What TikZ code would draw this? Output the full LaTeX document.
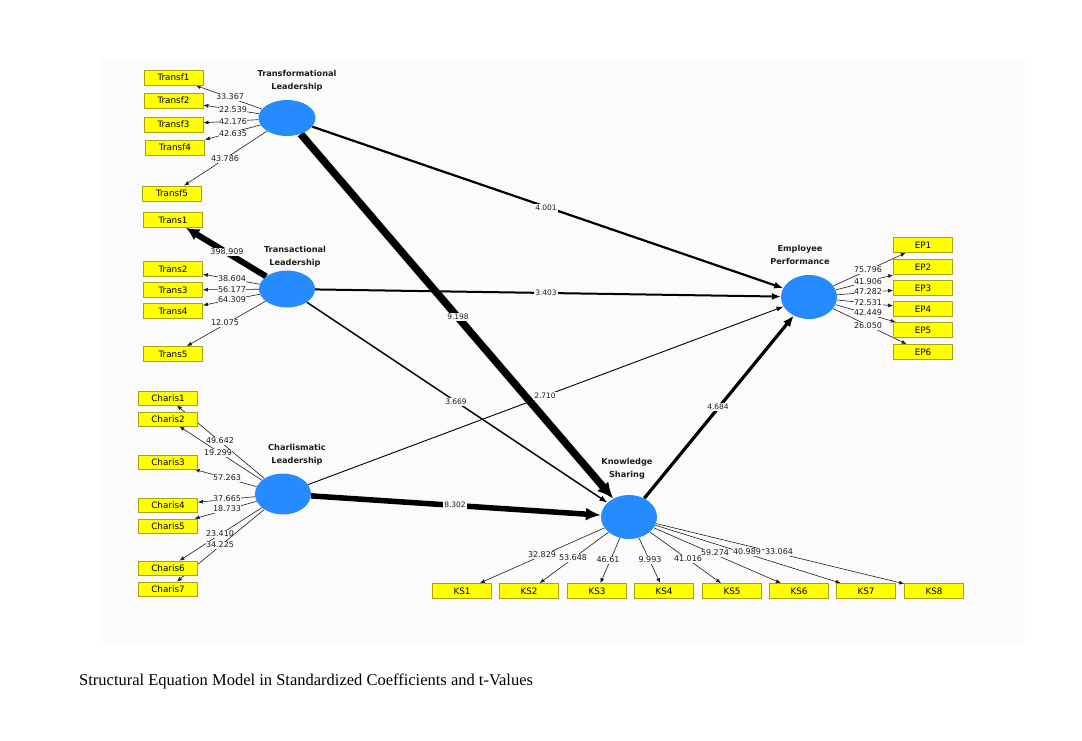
\documentclass[tikz,border=0pt]{standalone}
\usepackage{fontspec}
\newfontfamily\dvfont{DejaVu Sans}
\newfontfamily\capfont{Liberation Serif}
\usetikzlibrary{arrows.meta,shapes.geometric}
\pgfdeclarelayer{conn}
\pgfsetlayers{conn,main}
\definecolor{lvblue}{RGB}{38,139,255}
\definecolor{mvyellow}{RGB}{255,255,0}
\definecolor{mvborder}{RGB}{165,165,20}
\definecolor{bgc}{RGB}{251,251,251}
\definecolor{ink}{RGB}{30,30,30}
\tikzset{
 lv/.style={ellipse, fill=lvblue, draw=none, inner sep=0pt},
 lvt/.style={align=center, font=\dvfont\bfseries\fontsize{8.2}{13}\selectfont, text=ink},
 mv/.style={rectangle, fill=mvyellow, draw=mvborder, line width=0.8pt, minimum width=59pt, minimum height=15pt, inner sep=0pt, font=\dvfont\fontsize{8.8}{10}\selectfont},
 ms/.style={draw=ink, line width=0.6pt, -{Latex[length=5pt,width=4pt]}},
 nl/.style={fill=bgc, inner sep=0.5pt, font=\dvfont\fontsize{8}{9}\selectfont, text=ink},
 sl/.style={fill=bgc, inner sep=1pt, font=\dvfont\fontsize{7.5}{9}\selectfont, text=ink},
 sp/.style n args={3}{draw=black, line width=#1, -{Latex[length=#2,width=#3]}},
}
\begin{document}
\begin{tikzpicture}[x=1pt,y=-1pt]
\useasboundingbox (0,0) rectangle (1082,741);

% latent variables
\node[lv, minimum width=57pt, minimum height=36pt] (TL) at (287,118) {};
\node[lv, minimum width=56pt, minimum height=37pt] (TrL) at (287,289) {};
\node[lv, minimum width=56pt, minimum height=41pt] (CL) at (283,494) {};
\node[lv, minimum width=56pt, minimum height=44pt] (EP) at (809,297) {};
\node[lv, minimum width=56pt, minimum height=44pt] (KS) at (629,517) {};

\node[lvt] (TLt) at (297,81) {Transformational\\Leadership};
\node[lvt] (TrLt) at (295,257) {Transactional\\Leadership};
\node[lvt] (CLt) at (297,455) {Charlismatic\\Leadership};
\node[lvt] (EPt) at (800,255) {Employee\\Performance};
\node[lvt] (KSt) at (627,469) {Knowledge\\Sharing};

% indicators
\node[mv] (Transf1) at (173.5,77.5) {Transf1};
\node[mv] (Transf2) at (173.5,100.5) {Transf2};
\node[mv] (Transf3) at (173.5,124.5) {Transf3};
\node[mv] (Transf4) at (175,147.5) {Transf4};
\node[mv] (Transf5) at (172,193.5) {Transf5};

\node[mv] (Trans1) at (173,220) {Trans1};
\node[mv] (Trans2) at (173,269) {Trans2};
\node[mv] (Trans3) at (173,290) {Trans3};
\node[mv] (Trans4) at (173,311) {Trans4};
\node[mv] (Trans5) at (173,354) {Trans5};

\node[mv, minimum height=14pt] (Charis1) at (168,398) {Charis1};
\node[mv, minimum height=14pt] (Charis2) at (168,419) {Charis2};
\node[mv, minimum height=14pt] (Charis3) at (168,462) {Charis3};
\node[mv, minimum height=14pt] (Charis4) at (168,505) {Charis4};
\node[mv, minimum height=14pt] (Charis5) at (168,526) {Charis5};
\node[mv, minimum height=14pt] (Charis6) at (168,568) {Charis6};
\node[mv, minimum height=14pt] (Charis7) at (168,589) {Charis7};

\node[mv] (EP1) at (923,245) {EP1};
\node[mv] (EP2) at (923,267) {EP2};
\node[mv] (EP3) at (923,288) {EP3};
\node[mv] (EP4) at (923,309) {EP4};
\node[mv] (EP5) at (923,330) {EP5};
\node[mv] (EP6) at (923,352) {EP6};

\node[mv] (KS1) at (462,591) {KS1};
\node[mv] (KS2) at (529,591) {KS2};
\node[mv] (KS3) at (597,591) {KS3};
\node[mv] (KS4) at (664,591) {KS4};
\node[mv] (KS5) at (732,591) {KS5};
\node[mv] (KS6) at (799,591) {KS6};
\node[mv] (KS7) at (866,591) {KS7};
\node[mv] (KS8) at (934,591) {KS8};

\node[anchor=base west, font=\capfont\fontsize{16.5}{18}\selectfont, inner sep=0pt] (cap) at (79,685) {Structural Equation Model in Standardized Coefficients and t-Values};

\begin{pgfonlayer}{conn}
\fill[white] (0,0) rectangle (1082,741);
\fill[bgc] (100,59) rectangle (1025,643);

% measurement model
\draw[ms] (TL) -- (Transf1) node[nl] at (230,97) {33.367};
\draw[ms] (TL) -- (Transf2) node[nl] at (233,110) {22.539};
\draw[ms] (TL) -- (Transf3) node[nl] at (233,122) {42.176};
\draw[ms] (TL) -- (Transf4) node[nl] at (233,134) {42.635};
\draw[ms] (TL) -- (Transf5) node[nl] at (225,159) {43.786};

\draw[sp={6pt}{13pt}{13pt}] (TrL) -- (Trans1) node[nl] at (227,252) {398.909};
\draw[ms] (TrL) -- (Trans2) node[nl] at (232,279) {38.604};
\draw[ms] (TrL) -- (Trans3) node[nl] at (232,290) {56.177};
\draw[ms] (TrL) -- (Trans4) node[nl] at (232,300) {64.309};
\draw[ms] (TrL) -- (Trans5) node[nl] at (225,323) {12.075};

\draw[ms] (CL) -- (Charis1) node[nl] at (220,441) {49.642};
\draw[ms] (CL) -- (Charis2) node[nl] at (218,453) {19.299};
\draw[ms] (CL) -- (Charis3) node[nl] at (227,478) {57.263};
\draw[ms] (CL) -- (Charis4) node[nl] at (227,499) {37.665};
\draw[ms] (CL) -- (Charis5) node[nl] at (227,509) {18.733};
\draw[ms] (CL) -- (Charis6) node[nl] at (220,534) {23.410};
\draw[ms] (CL) -- (Charis7) node[nl] at (220,545) {34.225};

\draw[ms] (EP) -- (EP1) node[nl] at (868,270) {75.796};
\draw[ms] (EP) -- (EP2) node[nl] at (868,282) {41.906};
\draw[ms] (EP) -- (EP3) node[nl] at (868,292) {47.282};
\draw[ms] (EP) -- (EP4) node[nl] at (868,303) {72.531};
\draw[ms] (EP) -- (EP5) node[nl] at (868,313) {42.449};
\draw[ms] (EP) -- (EP6) node[nl] at (868,326) {26.050};

\draw[ms] (KS) -- (KS8) node[nl] at (779,552) {33.064};
\draw[ms] (KS) -- (KS7) node[nl] at (747,552) {40.989};
\draw[ms] (KS) -- (KS6) node[nl] at (715,553) {59.274};
\draw[ms] (KS) -- (KS5) node[nl] at (688,559) {41.016};
\draw[ms] (KS) -- (KS4) node[nl] at (650,560) {9.993};
\draw[ms] (KS) -- (KS3) node[nl] at (608,560) {46.61};
\draw[ms] (KS) -- (KS2) node[nl] at (573,558) {53.648};
\draw[ms] (KS) -- (KS1) node[nl] at (542,555) {32.829};

% structural model
\draw[sp={2.2pt}{9pt}{7pt}] (TL) -- (EP) node[sl] at (546,208) {4.001};
\draw[sp={7.5pt}{16pt}{15pt}] (TL) -- (KS) node[sl] at (458,317) {9.198};
\draw[sp={2pt}{9pt}{7pt}] (TrL) -- (EP) node[sl] at (546,293) {3.403};
\draw[sp={1.4pt}{8pt}{6pt}] (TrL) -- (KS) node[sl] at (456,402) {3.669};
\draw[sp={0.9pt}{7pt}{5pt}] (CL) -- (EP) node[sl] at (545,396) {2.710};
\draw[sp={5.5pt}{15pt}{13pt}] (CL) -- (KS) node[sl] at (455,505) {8.302};
\draw[sp={3.2pt}{11pt}{9pt}] (KS) -- (EP) node[sl] at (718,407) {4.684};
\end{pgfonlayer}
\end{tikzpicture}
\end{document}
